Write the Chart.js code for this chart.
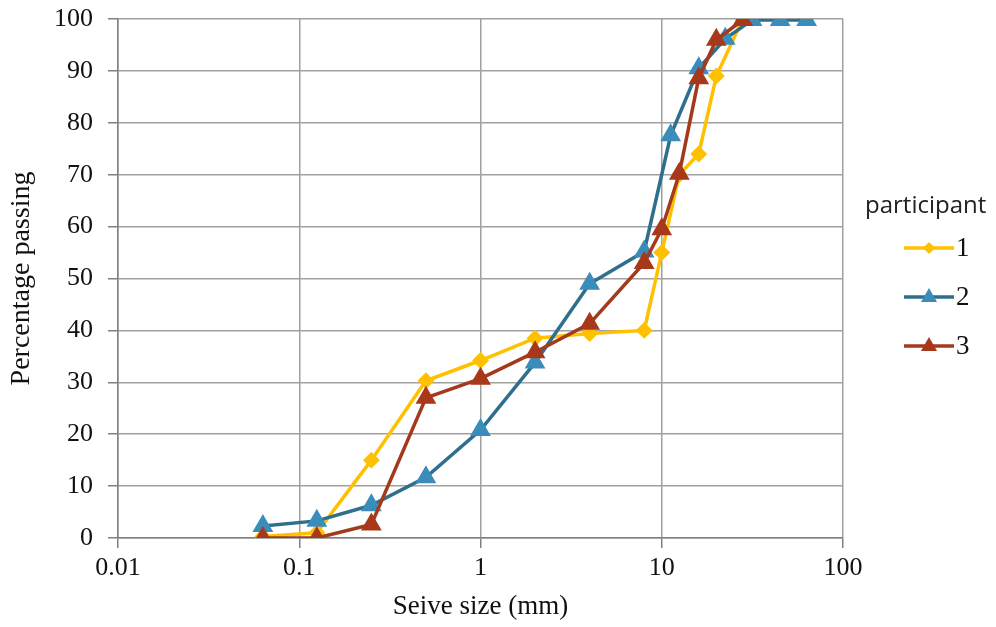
<!DOCTYPE html>
<html>
<head>
<meta charset="utf-8">
<script src="https://cdn.jsdelivr.net/npm/chart.js@4.4.1/dist/chart.umd.min.js"></script>
<style>
  html, body { margin: 0; padding: 0; background: #fff; }
  #wrap { width: 996px; height: 627px; }
</style>
</head>
<body>
<div id="wrap"><canvas id="chart-sieve"></canvas></div>
<script>
// sieve sizes (mm) and percentage passing per participant
var sizes1 = [0.063, 0.125, 0.25, 0.5, 1, 2, 4, 8, 10, 12.5, 16, 20, 28];
var pass1 = [0.3, 1, 15, 30.3, 34.2, 38.5, 39.4, 40, 55, 70, 74, 89, 100];

var sizes2 = [0.063, 0.125, 0.25, 0.5, 1, 2, 4, 8, 11.2, 16, 22.4, 31.5, 45, 63];
var pass2 = [2.3, 3.3, 6.3, 11.7, 20.8, 33.8, 49, 55.2, 77.6, 90.5, 96.2, 99.8, 99.8, 99.8];

var sizes3 = [0.063, 0.125, 0.25, 0.5, 1, 2, 4, 8, 10, 12.5, 16, 20, 28];
var pass3 = [0, 0, 2.6, 27, 30.7, 35.8, 41.3, 53, 59.5, 70.2, 88.6, 96, 99.8];

var participants = ["1", "2", "3"];
var xTicks = [0.01, 0.1, 1, 10, 100];
var yTicks = [0, 10, 20, 30, 40, 50, 60, 70, 80, 90, 100];

var serif = "'Liberation Serif', 'Times New Roman', serif";

function toPoints(xs, ys) {
  return xs.map(function(x, i) { return { x: x, y: ys[i] }; });
}

// legend drawn like the spreadsheet one: line + marker + label
var sideLegend = {
  id: "sideLegend",
  afterDraw: function(chart) {
    var c = chart.ctx;
    c.save();
    c.fillStyle = "#222";
    c.font = "24px 'Open Sans', 'Liberation Sans', sans-serif";
    c.textBaseline = "middle";
    c.fillText("participant", 865, 206);
    chart.data.datasets.forEach(function(ds, i) {
      var y = 248 + i * 49;
      c.strokeStyle = ds.borderColor;
      c.lineWidth = 3.5;
      c.beginPath();
      c.moveTo(904, y);
      c.lineTo(954, y);
      c.stroke();
      c.fillStyle = ds.pointBackgroundColor;
      c.beginPath();
      if (ds.pointStyle === "rectRot") {
        c.moveTo(929, y - 6);
        c.lineTo(935, y);
        c.lineTo(929, y + 6);
        c.lineTo(923, y);
      } else {
        c.moveTo(929, y - 9);
        c.lineTo(937, y + 5);
        c.lineTo(921, y + 5);
      }
      c.closePath();
      c.fill();
      c.fillStyle = "#111";
      c.font = "27px " + serif;
      c.fillText(ds.label, 956, y + 1);
    });
    c.restore();
  }
};

var ctx = document.getElementById("chart-sieve").getContext("2d");

var chart = new Chart(ctx, {
  type: "line",
  data: {
    datasets: [
      {
        label: participants[0],
        data: toPoints(sizes1, pass1),
        borderColor: "#FFC000",
        backgroundColor: "#FFC000",
        pointBackgroundColor: "#FFC000",
        pointBorderColor: "#FFC000",
        pointStyle: "rectRot",
        pointRadius: 6,
        borderWidth: 3.5,
        order: 3
      },
      {
        label: participants[1],
        data: toPoints(sizes2, pass2),
        borderColor: "#2F6F8E",
        backgroundColor: "#3A8DBB",
        pointBackgroundColor: "#3A8DBB",
        pointBorderColor: "#3A8DBB",
        pointStyle: "triangle",
        pointRadius: 8.5,
        borderWidth: 3.5,
        order: 2
      },
      {
        label: participants[2],
        data: toPoints(sizes3, pass3),
        borderColor: "#A33A1C",
        backgroundColor: "#A8381A",
        pointBackgroundColor: "#A8381A",
        pointBorderColor: "#A8381A",
        pointStyle: "triangle",
        pointRadius: 8.5,
        borderWidth: 3.5,
        order: 1
      }
    ]
  },
  options: {
    responsive: true,
    maintainAspectRatio: false,
    animation: false,
    layout: { padding: { top: 19, right: 153, left: 0, bottom: 0 } },
    plugins: {
      legend: { display: false },
      tooltip: { enabled: false }
    },
    scales: {
      x: {
        type: "logarithmic",
        min: 0.01,
        max: 100,
        afterBuildTicks: function(scale) {
          scale.ticks = xTicks.map(function(v) { return { value: v }; });
        },
        afterFit: function(scale) {
          scale.height = 89;
          scale.paddingLeft = 0;
          scale.paddingRight = 0;
        },
        ticks: {
          autoSkip: false,
          maxRotation: 0,
          color: "#111",
          padding: 5,
          font: { family: serif, size: 26 },
          callback: function(v) { return String(v); }
        },
        grid: { color: "#a0a0a0", lineWidth: 1.5, tickLength: 10, tickColor: "#808080" },
        border: { color: "#808080", width: 1.5 },
        title: {
          display: true,
          text: "Seive size (mm)",
          color: "#111",
          padding: { top: 0, bottom: 4 },
          font: { family: serif, size: 27 }
        }
      },
      y: {
        min: 0,
        max: 100,
        afterBuildTicks: function(scale) {
          scale.ticks = yTicks.map(function(v) { return { value: v }; });
        },
        afterFit: function(scale) {
          scale.width = 118;
          scale.paddingTop = 0;
          scale.paddingBottom = 0;
        },
        ticks: {
          color: "#111",
          padding: 15,
          font: { family: serif, size: 26 }
        },
        grid: { color: "#a0a0a0", lineWidth: 1.5, tickLength: 10, tickColor: "#808080" },
        border: { color: "#808080", width: 1.5 },
        title: {
          display: true,
          text: "Percentage passing",
          color: "#111",
          padding: { top: 5, bottom: 0 },
          font: { family: serif, size: 28 }
        }
      }
    }
  },
  plugins: [sideLegend]
});
</script>
</body>
</html>
